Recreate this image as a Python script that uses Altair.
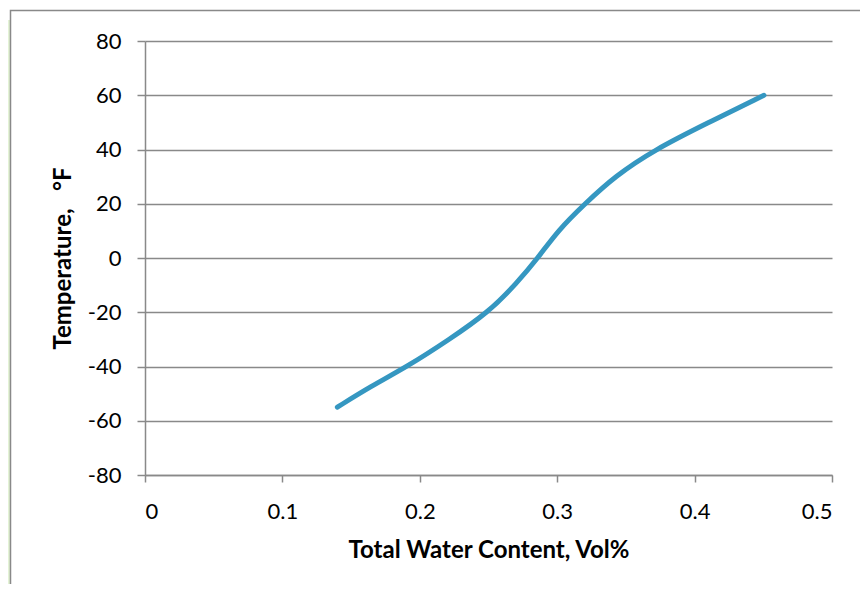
import altair as alt
import pandas as pd

# Data
water_content = [0.14, 0.164, 0.191, 0.221, 0.25, 0.2705, 0.286, 0.3008, 0.3202, 0.3421, 0.3712, 0.4088, 0.4505]
temperature = [-55, -47.4, -40, -30.2, -20, -9.3, 0, 10.3, 20, 30.2, 40, 49.6, 60]
x_ticks = [0, 0.1, 0.2, 0.3, 0.4, 0.5]
y_ticks = [-80, -60, -40, -20, 0, 20, 40, 60, 80]

df = pd.DataFrame({"x": water_content, "y": temperature})

GRAY = "#898989"
FONT = "Lato"

line = alt.Chart(df).mark_line(
    color="#3597C1", strokeWidth=5, strokeCap="round", interpolate="basis"
).encode(
    x=alt.X("x:Q",
            scale=alt.Scale(domain=[0, 0.5], nice=False, zero=False),
            axis=alt.Axis(values=x_ticks, labelExpr="'' + datum.value",
                          title="Total Water Content, Vol%", grid=False,
                          domainColor=GRAY, domainWidth=1.5, tickColor=GRAY,
                          tickWidth=1.5, tickSize=7, labelPadding=19,
                          titlePadding=16)),
    y=alt.Y("y:Q",
            scale=alt.Scale(domain=[-80, 80], nice=False, zero=False),
            axis=alt.Axis(values=y_ticks, labelExpr="'' + datum.value",
                          title="Temperature, \u00a0\u00a0°F", grid=True, gridColor=GRAY,
                          gridWidth=1.5, domainColor=GRAY, domainWidth=1.5,
                          tickColor=GRAY, tickWidth=1.5, tickSize=8,
                          labelPadding=16, titlePadding=12)),
)

frame = alt.Chart(alt.Data(values=[{"k": 1}])).mark_rect(
    fill="transparent", stroke=GRAY, strokeWidth=1.5
).encode(
    x=alt.value(-134.5), x2=alt.value(800),
    y=alt.value(-30.5), y2=alt.value(800),
)

shadow = alt.Chart(alt.Data(values=[{"k": 1}])).mark_rule(
    color="#e4f3d6", strokeWidth=2
).encode(
    x=alt.value(-136), y=alt.value(-21), y2=alt.value(800),
)

chart = alt.layer(shadow, frame, line).properties(
    width=687, height=434,
    autosize=alt.AutoSizeParams(type="none"),
    padding={"left": 137, "top": 33, "right": 28, "bottom": 109},
).configure_view(stroke=None).configure_axis(
    labelFont=FONT, labelFontSize=22, labelColor="#000000",
    titleFont=FONT, titleFontSize=24, titleFontWeight="bold", titleColor="#000000",
)

chart.save("out.html", embed_options={"renderer": "svg", "actions": False})
